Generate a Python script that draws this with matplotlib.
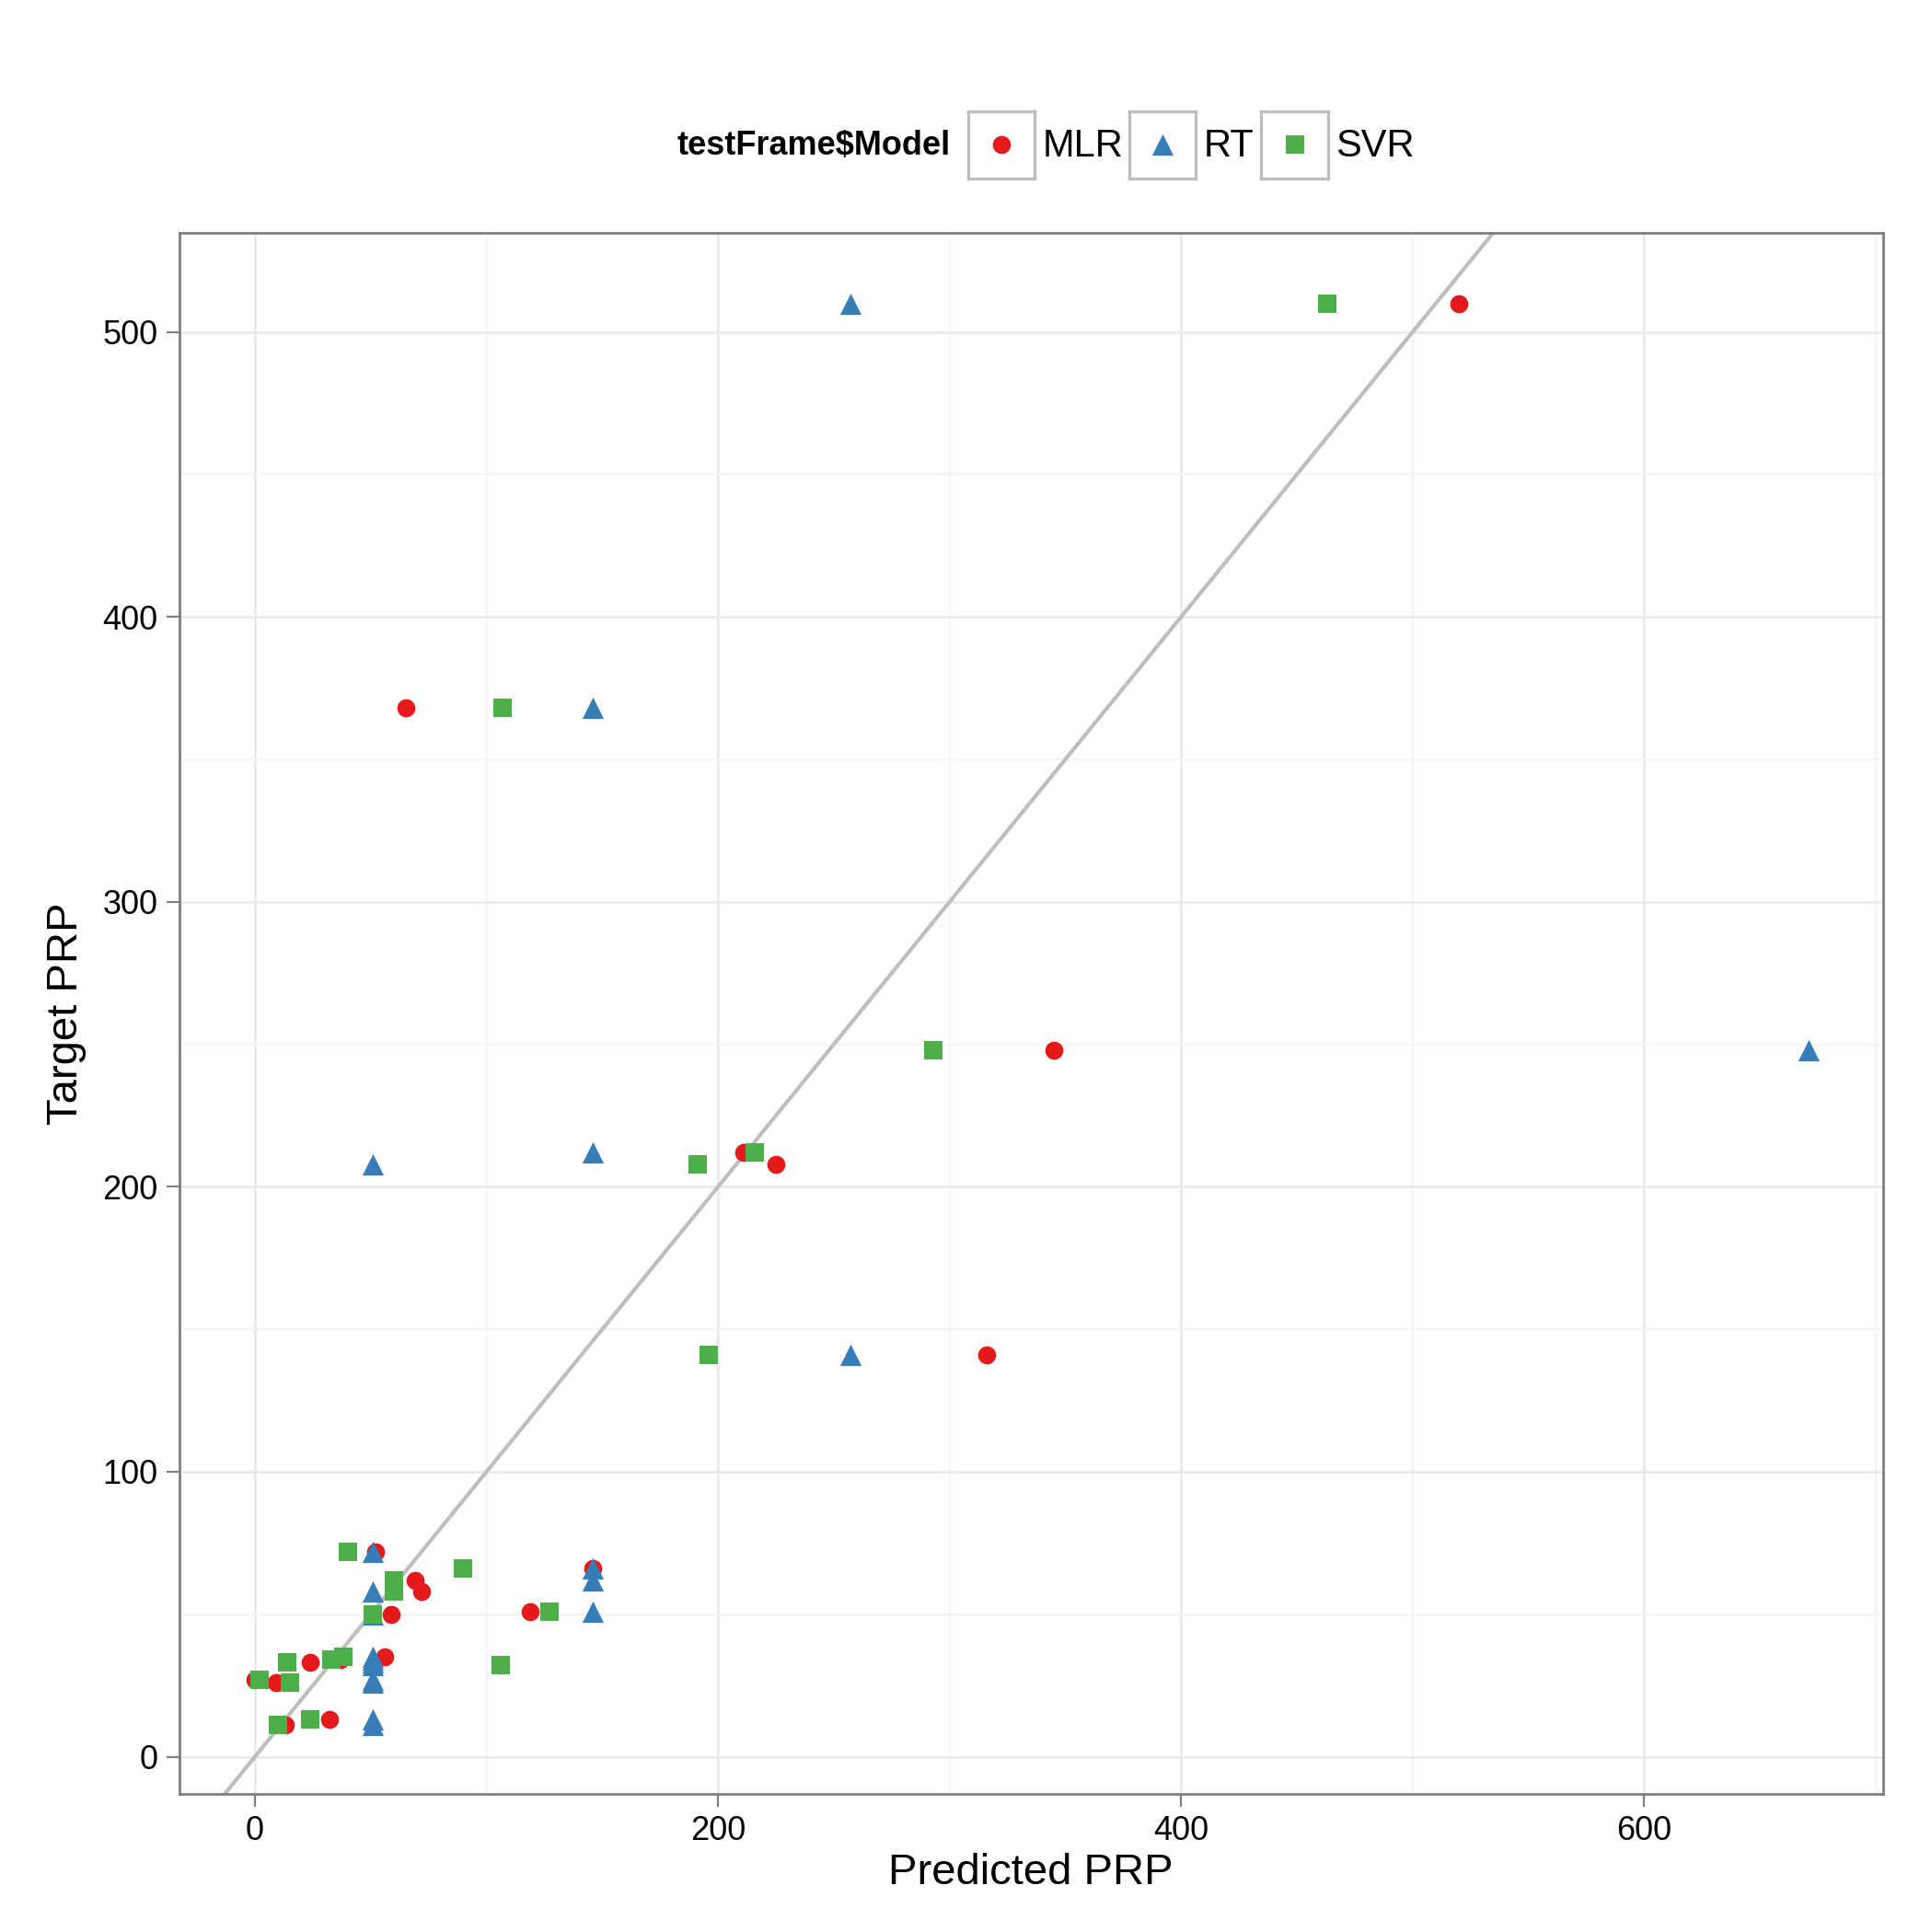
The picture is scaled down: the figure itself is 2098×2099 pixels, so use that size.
import matplotlib.pyplot as plt
from matplotlib.ticker import MultipleLocator

plt.rcParams['font.family'] = ['Liberation Sans', 'DejaVu Sans']

target = [510, 368, 248, 212, 208, 141, 72, 66, 62, 58, 50, 51, 35, 34, 32, 33, 27, 26, 13, 11]
mlr = [520, 65, 345, 211, 225, 316, 52, 146, 69, 72, 59, 119, 56, 37, 106, 24, 0, 9, 32, 13]
rt = [257, 146, 671, 146, 51, 257, 51, 146, 146, 51, 51, 146, 51, 51, 51, 51, 51, 51, 51, 51]
svr = [463, 107, 293, 216, 191, 196, 40, 90, 60, 60, 51, 127, 38, 33, 106, 14, 2, 15, 24, 10]
models = ["MLR", "RT", "SVR"]
colors = {"MLR": "#E41A1C", "RT": "#377EB8", "SVR": "#4DAF4A"}
markers = {"MLR": "o", "RT": "^", "SVR": "s"}
sizes = {"MLR": 50, "RT": 70, "SVR": 50}
preds = {"MLR": mlr, "RT": rt, "SVR": svr}

W, H = 1560, 1560.7
fig = plt.figure(figsize=(10.49, 10.495), dpi=200)
ax = fig.add_axes([145 / W, 1 - 1449 / H, (1521 - 145) / W, (1449 - 188) / H])
ax.set_xlim(-32.6, 703)
ax.set_ylim(-13, 534.8)
ax.xaxis.set_major_locator(MultipleLocator(200))
ax.xaxis.set_minor_locator(MultipleLocator(100))
ax.yaxis.set_major_locator(MultipleLocator(100))
ax.yaxis.set_minor_locator(MultipleLocator(50))
ax.grid(True, which='major', color='#EBEBEB', lw=1.0)
ax.grid(True, which='minor', color='#F5F5F5', lw=0.8)
ax.set_axisbelow(True)
for s in ax.spines.values():
    s.set_color('#7F7F7F')
    s.set_linewidth(1.0)
ax.tick_params(which='minor', length=0)
ax.tick_params(which='major', length=5, color='#7F7F7F', labelsize=13, labelcolor='black')

ax.plot([-100, 800], [-100, 800], color='#BEBEBE', lw=1.5, zorder=1)
for m in models:
    ax.scatter(preds[m], target, c=colors[m], marker=markers[m], s=sizes[m], lw=0, zorder=3)

ax.set_xlabel("Predicted PRP", fontsize=17, labelpad=2)
ax.set_ylabel("Target PRP", fontsize=17, labelpad=6)

# legend on top
fig.text(768 / W, 1 - 118 / H, "testFrame$Model", ha='right', va='center',
         fontsize=13, fontweight='bold')
for m, x0 in zip(models, [782, 912, 1019]):
    kax = fig.add_axes([x0 / W, 1 - 144 / H, 54 / W, 54 / H])
    kax.set_xlim(0, 1)
    kax.set_ylim(0, 1)
    kax.set_xticks([])
    kax.set_yticks([])
    for s in kax.spines.values():
        s.set_color('#BEBEBE')
        s.set_linewidth(1.2)
    kax.scatter([0.5], [0.5], c=colors[m], marker=markers[m], s=sizes[m], lw=0)
    fig.text((x0 + 60) / W, 1 - 118 / H, m, ha='left', va='center', fontsize=15)

fig.savefig("out.png", dpi=200, facecolor='white')
